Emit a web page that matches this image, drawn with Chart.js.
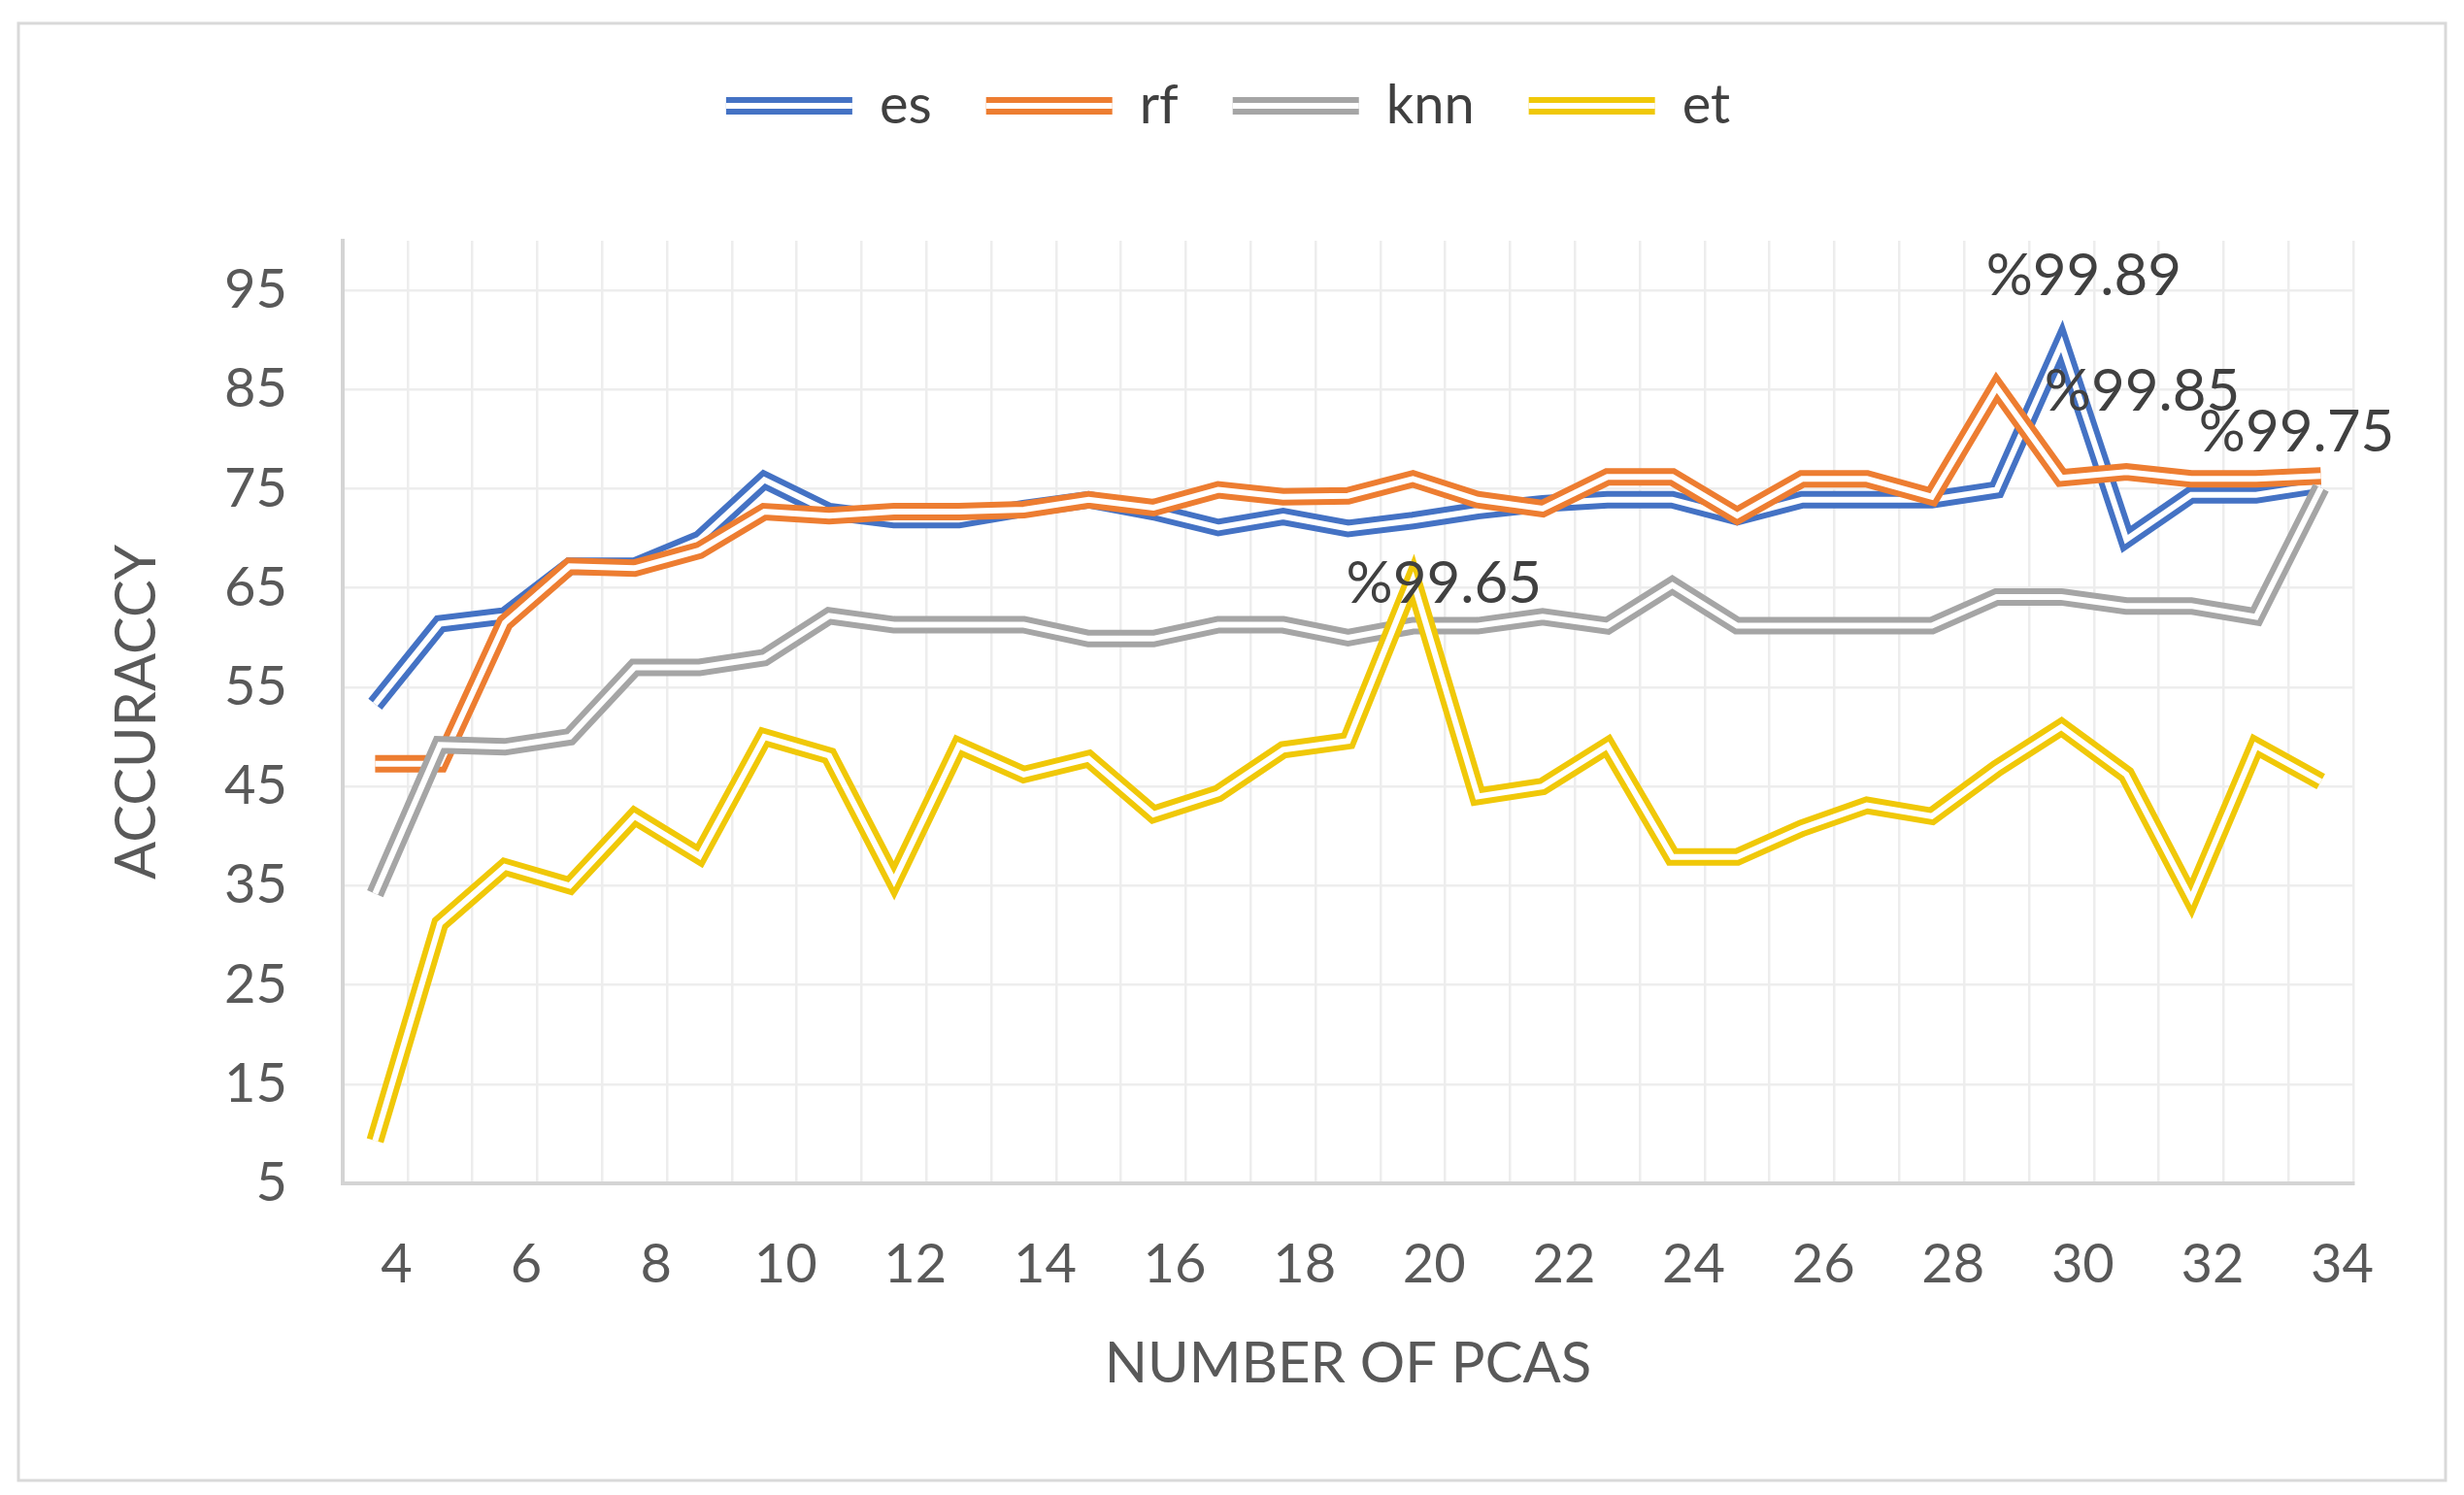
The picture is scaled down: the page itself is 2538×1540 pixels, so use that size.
<!DOCTYPE html>
<html>
<head>
<meta charset="utf-8">
<script src="https://cdn.jsdelivr.net/npm/chart.js@4.4.1/dist/chart.umd.min.js"></script>
<style>
  html, body { margin: 0; padding: 0; background: #fff; }
  canvas { display: block; }
</style>
</head>
<body>
<canvas id="chart" width="2538" height="1540"></canvas>
<script>
// number of PCA components on the x axis
const pcas = [4, 5, 6, 7, 8, 9, 10, 11, 12, 13, 14, 15, 16, 17, 18, 19, 20,
  21, 22, 23, 24, 25, 26, 27, 28, 29, 30, 31, 32, 33, 34]

const es = [53.3, 61.4, 62.2, 67.2, 67.2, 69.9, 75.9, 72.7, 71.9, 71.9, 73.0,
  73.9, 72.7, 71.1, 72.2, 71.0, 71.8, 72.8, 73.5, 73.9, 73.9, 72.2, 73.9,
  73.9, 73.9, 74.9, 89.6, 69.9, 74.4, 74.4, 75.4]
const rf = [47.3, 47.3, 61.5, 67.2, 67.0, 68.8, 72.7, 72.3, 72.7, 72.7, 72.9,
  73.9, 73.1, 74.9, 74.2, 74.3, 76.0, 73.9, 73.0, 76.2, 76.2, 72.3, 76.0,
  76.0, 74.2, 85.2, 76.1, 76.7, 76.0, 76.0, 76.3]
const knn = [34.2, 49.2, 49.0, 50.0, 57.0, 57.0, 58.0, 62.2, 61.3, 61.3, 61.3,
  59.9, 59.9, 61.3, 61.3, 60.0, 61.2, 61.2, 62.1, 61.2, 65.3, 61.2, 61.2,
  61.2, 61.2, 64.1, 64.1, 63.2, 63.2, 62.1, 75.1]
const et = [9.3, 31.2, 36.9, 35.0, 42.0, 38.0, 50.0, 48.1, 35.5, 49.1, 46.2,
  47.8, 42.2, 44.3, 48.7, 49.6, 65.8, 44.0, 45.0, 49.1, 37.9, 37.9, 40.8,
  43.1, 42.0, 46.8, 51.0, 46.2, 33.7, 49.1, 45.5]

const yTicks = [5, 15, 25, 35, 45, 55, 65, 75, 85, 95]

// annotated best scores
const peakLabels = [
  { series: 'es', at: 26, text: '%99.89', dx: 23, dy: -70 },
  { series: 'rf', at: 25, text: '%99.85', dx: 150, dy: 4 },
  { series: 'knn', at: 30, text: '%99.75', dx: -25, dy: -57 },
  { series: 'et', at: 16, text: '%99.65', dx: 32, dy: 4 }
]

const FONT = 'Lato, "Open Sans", sans-serif'
const TEXT = '#595959'

// Excel style "double" lines: thick coloured stroke, white core on top
const doubleLine = {
  id: 'doubleLine',
  afterInit (chart) {
    const fit = chart.legend.fit
    chart.legend.fit = function () {
      fit.call(this)
      this.height += 101
    }
  },
  beforeDraw (chart) {
    const { ctx, width, height } = chart
    ctx.save()
    ctx.fillStyle = '#fff'
    ctx.fillRect(0, 0, width, height)
    ctx.strokeStyle = '#d9d9d9'
    ctx.lineWidth = 3
    ctx.strokeRect(19, 24, 2500, 1501)
    ctx.restore()
  },
  afterDatasetDraw (chart, args) {
    const pts = args.meta.data
    const ctx = chart.ctx
    ctx.save()
    ctx.beginPath()
    pts.forEach((p, i) => (i ? ctx.lineTo(p.x, p.y) : ctx.moveTo(p.x, p.y)))
    ctx.lineWidth = 6
    ctx.strokeStyle = '#fff'
    ctx.stroke()
    ctx.restore()
  },
  afterDatasetsDraw (chart) {
    const ctx = chart.ctx
    ctx.save()
    ctx.font = '60px ' + FONT
    ctx.fillStyle = '#404040'
    ctx.textAlign = 'center'
    ctx.textBaseline = 'middle'
    peakLabels.forEach(l => {
      const idx = chart.data.datasets.findIndex(d => d.label === l.series)
      const p = chart.getDatasetMeta(idx).data[l.at]
      ctx.fillText(l.text, p.x + l.dx, p.y + l.dy)
    })
    ctx.restore()
  },
  afterDraw (chart) {
    const ctx = chart.ctx
    ctx.save()
    ctx.fillStyle = '#fff'
    chart.legend.legendHitBoxes.forEach(hb => {
      ctx.fillRect(hb.left, hb.top + hb.height / 2 - 3, 130, 6)
    })
    ctx.restore()
  }
}

function series (label, data, color, order) {
  return {
    label,
    data,
    order,
    borderColor: color,
    backgroundColor: color,
    borderWidth: 18,
    pointRadius: 0,
    tension: 0
  }
}

new Chart(document.getElementById('chart'), {
  type: 'line',
  data: {
    labels: pcas,
    datasets: [
      series('es', es, '#4472c4', 4),
      series('rf', rf, '#ed7d31', 3),
      series('knn', knn, '#a5a5a5', 2),
      series('et', et, '#f0c808', 1)
    ]
  },
  options: {
    responsive: false,
    devicePixelRatio: 1,
    animation: false,
    layout: { padding: { top: 25, left: 106, right: 114, bottom: 100 } },
    plugins: {
      tooltip: { enabled: false },
      legend: {
        position: 'top',
        labels: {
          boxWidth: 130,
          boxHeight: 18,
          padding: 56,
          color: '#404040',
          font: { family: FONT, size: 56 },
          generateLabels (chart) {
            return chart.data.datasets.map((d, i) => ({
              text: d.label,
              fillStyle: d.borderColor,
              strokeStyle: d.borderColor,
              lineWidth: 0,
              hidden: false,
              datasetIndex: i,
              fontColor: '#404040'
            }))
          }
        }
      }
    },
    scales: {
      x: {
        offset: true,
        afterFit (scale) { scale.height = 221 },
        grid: { offset: true, color: '#ededed', lineWidth: 2.5, drawTicks: false },
        border: { color: '#d4d4d4', width: 4 },
        ticks: {
          autoSkip: false,
          maxRotation: 0,
          padding: 50,
          labelOffset: 22,
          color: TEXT,
          font: { family: FONT, size: 56 },
          callback (v, i) { return i % 2 === 0 ? pcas[i] : '' }
        },
        title: {
          display: true,
          text: 'NUMBER OF PCAS',
          color: TEXT,
          padding: 0,
          font: { family: FONT, size: 58 }
        }
      },
      y: {
        min: 5,
        max: 100,
        afterFit (scale) { scale.width = 247 },
        afterBuildTicks (scale) { scale.ticks = yTicks.map(v => ({ value: v })) },
        grid: { color: '#ededed', lineWidth: 2.5, drawTicks: false },
        border: { color: '#d4d4d4', width: 4 },
        ticks: {
          padding: 57,
          color: TEXT,
          font: { family: FONT, size: 56 }
        },
        title: {
          display: true,
          text: 'ACCURACCY',
          color: TEXT,
          padding: 0,
          font: { family: FONT, size: 58 }
        }
      }
    }
  },
  plugins: [doubleLine]
})
</script>
</body>
</html>
